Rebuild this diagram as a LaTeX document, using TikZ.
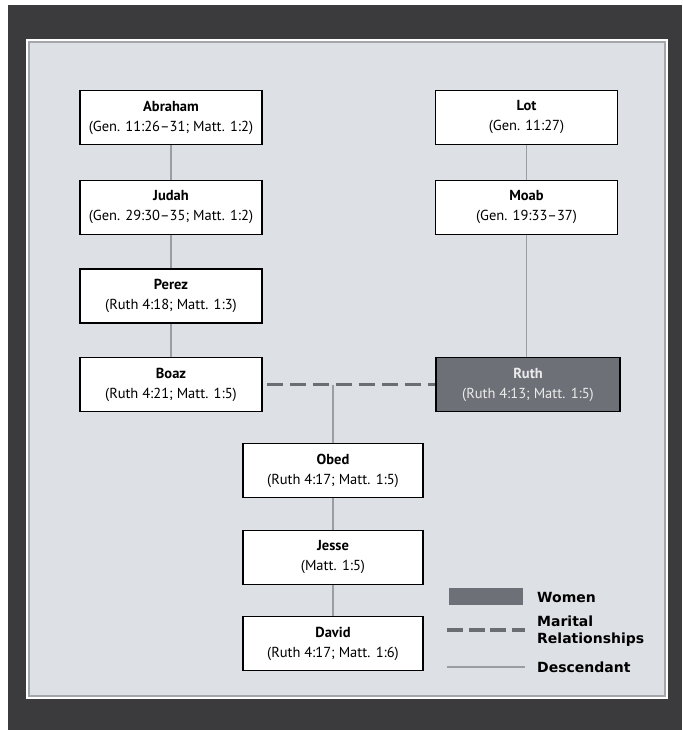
\documentclass[tikz,border=0pt]{standalone}
\usepackage{fontspec}
\setmainfont{PT Sans}
\newfontfamily\legfont{DejaVu Sans}
\definecolor{frame}{HTML}{3B3A3C}
\definecolor{panel}{HTML}{DDE0E4}
\definecolor{panelline}{HTML}{A3A7AC}
\definecolor{women}{HTML}{6D7177}
\definecolor{conn}{HTML}{9A9EA4}
\definecolor{dashcol}{HTML}{6A6E73}
\tikzset{
  person/.style={draw=black, line width=1.6pt, fill=white, minimum width=182pt, minimum height=54pt,
    align=center, inner sep=0pt, font=\fontsize{14.5}{20}\selectfont},
  woman/.style={person, fill=women, text=white!92!black},
  desc/.style={draw=conn, line width=1.3pt},
  marital/.style={draw=dashcol, line width=3.2pt, dash pattern=on 16pt off 7pt},
  legtext/.style={anchor=west, align=left, inner sep=0pt, font=\legfont\fontsize{14}{17}\selectfont\bfseries}
}
\begin{document}
\begin{tikzpicture}[x=1pt,y=-1pt]
\useasboundingbox (0,0) rectangle (682,730);
\fill[white] (0,0) rectangle (682,730);
\fill[frame] (8,5) rectangle (682,730);
\fill[white] (26,39) rectangle (668,699);
\filldraw[fill=panel, draw=panelline, line width=1.5pt] (29,42) rectangle (665,696);

\node[person] (abraham) at (171,117.5) {\textbf{Abraham}\\(Gen. 11:26–31; Matt. 1:2)};
\node[person] (judah) at (171,207.5) {\textbf{Judah}\\(Gen. 29:30–35; Matt. 1:2)};
\node[person] (perez) at (171,296) {\textbf{Perez}\\(Ruth 4:18; Matt. 1:3)};
\node[person] (boaz) at (171,384.5) {\textbf{Boaz}\\(Ruth 4:21; Matt. 1:5)};
\node[person] (lot) at (526.5,117.5) {\textbf{Lot}\\(Gen. 11:27)};
\node[person] (moab) at (526.5,207.5) {\textbf{Moab}\\(Gen. 19:33–37)};
\node[woman, minimum width=184pt] (ruth) at (528,384.5) {\textbf{Ruth}\\(Ruth 4:13; Matt. 1:5)};
\node[person, minimum width=180pt] (obed) at (333,470.5) {\textbf{Obed}\\(Ruth 4:17; Matt. 1:5)};
\node[person, minimum width=180pt] (jesse) at (333,557.5) {\textbf{Jesse}\\(Matt. 1:5)};
\node[person, minimum width=180pt] (david) at (333,643.5) {\textbf{David}\\(Ruth 4:17; Matt. 1:6)};

\draw[desc] (abraham) -- (judah);
\draw[desc] (judah) -- (perez);
\draw[desc] (perez) -- (boaz);
\draw[desc] (lot) -- (moab);
\draw[desc] (moab) -- (ruth.north -| moab.south);
\coordinate (union) at (obed.north |- boaz.east);
\draw[desc] (union) -- (obed);
\draw[desc] (obed) -- (jesse);
\draw[desc] (jesse) -- (david);
\draw[marital] ([xshift=4pt]boaz.east) -- (ruth.west);

% legend
\fill[women] (449,588) rectangle (523,605);
\node[legtext] (lw) at (537,597) {Women};
\coordinate (ld1) at (447,630);
\coordinate (ld2) at (525,630);
\draw[dashcol, line width=3.4pt, dash pattern=on 16pt off 5.5pt] (ld1) -- (ld2);
\node[legtext] (lm) at (537,631) {Marital\\Relationships};
\coordinate (ls1) at (447,667);
\coordinate (ls2) at (525,667);
\draw[desc] (ls1) -- (ls2);
\node[legtext] (ldesc) at (537,667) {Descendant};
\end{tikzpicture}
\end{document}
